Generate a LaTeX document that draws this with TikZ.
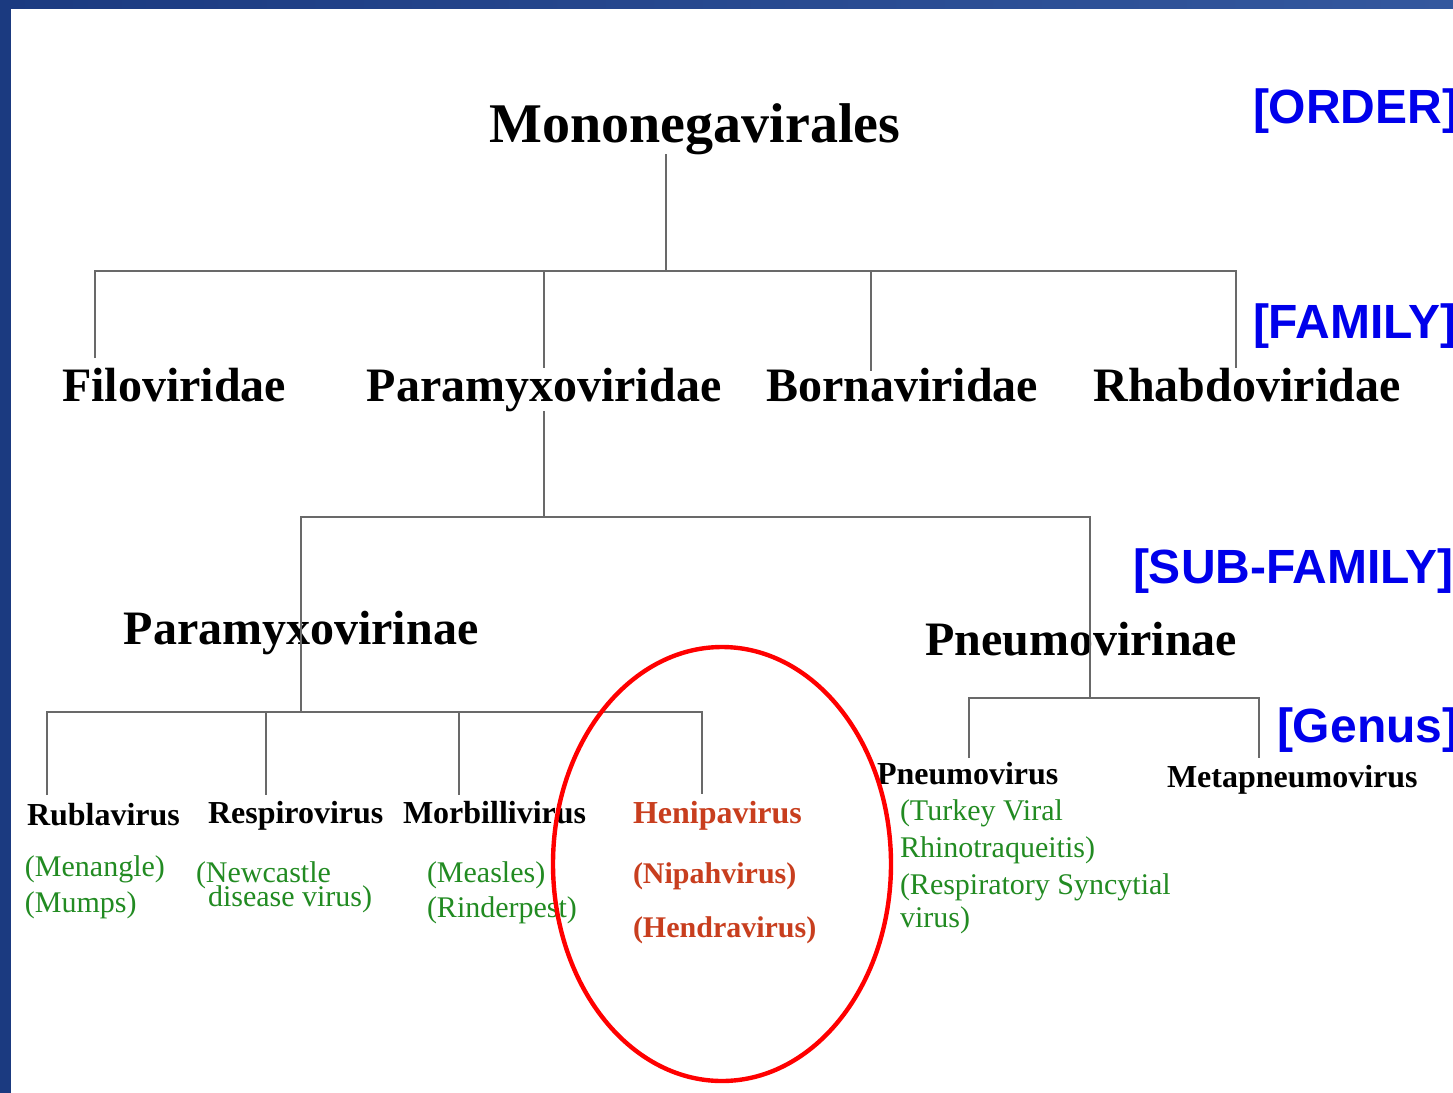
\documentclass[tikz,border=0pt]{standalone}
\usepackage{fontspec}
\setmainfont{Liberation Serif}
\newfontfamily\rankfont{Liberation Sans}
\definecolor{hostgreen}{RGB}{34,139,34}
\definecolor{henired}{RGB}{200,62,30}
\definecolor{rankblue}{RGB}{0,0,235}
\definecolor{linegray}{RGB}{105,105,105}
\definecolor{framedark}{RGB}{27,58,128}
\definecolor{framelight}{RGB}{52,88,158}
\begin{document}
\begin{tikzpicture}[x=0.5pt, y=-0.5pt, every node/.style={inner sep=0pt, outer sep=0pt},
    link/.style={draw=linegray, line width=0.9pt},
    ordername/.style={anchor=base, font=\fontsize{28}{30}\selectfont\bfseries},
    famname/.style={anchor=base, font=\fontsize{24}{26}\selectfont\bfseries},
    genname/.style={anchor=base west, font=\fontsize{16}{18}\selectfont\bfseries},
    hostname/.style={anchor=base west, text=hostgreen, font=\fontsize{15}{17}\selectfont},
    heniname/.style={anchor=base west, text=henired, font=\fontsize{15}{17}\selectfont\bfseries},
    rankname/.style={anchor=base west, text=rankblue, font=\rankfont\fontsize{24}{26}\selectfont\bfseries}]
    \useasboundingbox (0,0) rectangle (1453,1093);
    \clip (0,0) rectangle (1453,1093);
    \fill[white] (0,0) rectangle (1453,1093);
    \fill[framedark] (0,0) rectangle (11,1093);
    \shade[left color=framedark, right color=framelight] (0,0) rectangle (1453,8);
    \node[ordername] (mono) at (695,142) {Mononegavirales};
    \node[famname] (filo) at (174,401) {Filoviridae};
    \node[famname] (para) at (544,401) {Paramyxoviridae};
    \node[famname] (borna) at (902,401) {Bornaviridae};
    \node[famname] (rhabdo) at (1247,401) {Rhabdoviridae};
    \node[famname] (pvirinae) at (301,644) {Paramyxovirinae};
    \node[famname] (pneuvirinae) at (1081,655) {Pneumovirinae};
    \node[genname] (rubla) at (27,825) {Rublavirus};
    \node[genname] (respi) at (208,823) {Respirovirus};
    \node[genname] (morbi) at (403,823) {Morbillivirus};
    \node[genname, text=henired] (heni) at (633,823) {Henipavirus};
    \node[genname] (pneumo) at (877,784) {Pneumovirus};
    \node[genname] (meta) at (1167,787) {Metapneumovirus};
    \node[hostname] (menangle) at (25,876) {(Menangle)};
    \node[hostname] (mumps) at (25,912) {(Mumps)};
    \node[hostname] (ndva) at (196,882) {(Newcastle};
    \node[hostname] (ndvb) at (208,906) {disease virus)};
    \node[hostname] (measles) at (427,882) {(Measles)};
    \node[hostname] (rinder) at (427,917) {(Rinderpest)};
    \node[heniname] (nipah) at (633,883) {(Nipahvirus)};
    \node[heniname] (hendra) at (633,937) {(Hendravirus)};
    \node[hostname] (turkeya) at (900,820) {(Turkey Viral};
    \node[hostname] (turkeyb) at (900,857) {Rhinotraqueitis)};
    \node[hostname] (rsva) at (900,894) {(Respiratory Syncytial};
    \node[hostname] (rsvb) at (900,927) {virus)};
    \node[rankname] (order) at (1253,123) {[ORDER]};
    \node[rankname] (family) at (1253,338) {[FAMILY]};
    \node[rankname] (subfamily) at (1133,583) {[SUB-FAMILY]};
    \node[rankname] (genus) at (1277,742) {[Genus]};
    \coordinate (ordbar) at (666,271);
    \coordinate (jfilo) at (95,358);
    \coordinate (jborna) at (871,371);
    \coordinate (jrhabdo) at (1236,368);
    \coordinate (subbar) at (544,517);
    \coordinate (jpvir) at (301,712);
    \coordinate (jpneu) at (1090,698);
    \coordinate (jrubla) at (47,795);
    \coordinate (jrespi) at (266,795);
    \coordinate (jmorbi) at (459,795);
    \coordinate (jheni) at (702,794);
    \coordinate (jpneumo) at (969,758);
    \coordinate (jmeta) at (1259,758);
    \draw[link] (mono.south -| ordbar) -- (ordbar);
    \draw[link] (jfilo) |- (ordbar) -| (jrhabdo);
    \draw[link] (ordbar -| para) -- (para);
    \draw[link] (ordbar -| jborna) -- (jborna);
    \draw[link] (para) -- (subbar);
    \draw[link] (jpvir) -- (pvirinae.center) |- (subbar);
    \draw[link] (subbar) -| (jpneu);
    \draw[link] (jrubla) |- (jpvir) -| (jheni);
    \draw[link] (jpvir -| jrespi) -- (jrespi);
    \draw[link] (jpvir -| jmorbi) -- (jmorbi);
    \draw[link] (jpneumo) |- (jpneu) -| (jmeta);
    \draw[red, line width=2.2pt] (722,864) ellipse [x radius=169, y radius=217];
\end{tikzpicture}
\end{document}
